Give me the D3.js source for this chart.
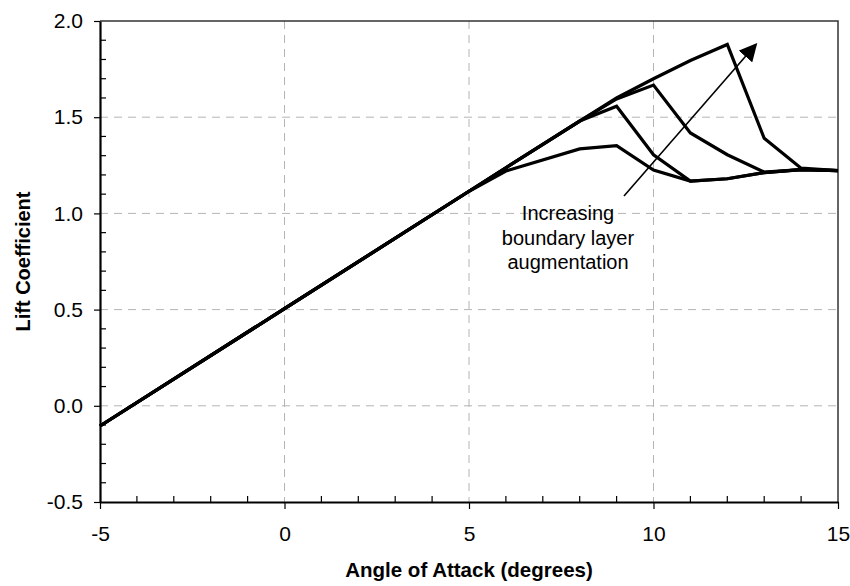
<!DOCTYPE html>
<html>
<head>
<meta charset="utf-8">
<script src="https://cdn.jsdelivr.net/npm/d3@7"></script>
<style>
  body { margin: 0; background: #fff; }
  text { font-family: "Liberation Sans", Arial, sans-serif; }
</style>
</head>
<body>
<svg id="chart" width="850" height="586"></svg>
<script>
// angle of attack breakpoints (deg)
const alpha = [-5, 0, 5, 6, 8, 9, 10, 11, 12, 13, 14, 15];

// lift coefficient, one list per level of boundary layer augmentation
const cl0 = [-0.105, 0.505, 1.115, 1.22, 1.335, 1.352, 1.225, 1.168, 1.18, 1.212, 1.228, 1.222];
const cl1 = [-0.105, 0.505, 1.115, 1.237, 1.48, 1.557, 1.305, 1.168, 1.18, 1.212, 1.228, 1.222];
const cl2 = [-0.105, 0.505, 1.115, 1.237, 1.48, 1.595, 1.667, 1.418, 1.305, 1.215, 1.228, 1.222];
const cl3 = [-0.105, 0.505, 1.115, 1.237, 1.48, 1.60, 1.70, 1.795, 1.878, 1.39, 1.235, 1.222];
const series = [cl0, cl1, cl2, cl3];

const xTicks = [-5, 0, 5, 10, 15];
const yTicks = [-0.5, 0, 0.5, 1.0, 1.5, 2.0];

// annotation arrow (data coords) and its label
const arrowFrom = [9.2, 1.09];
const arrowTo = [12.78, 1.879];
const noteLines = ["Increasing", "boundary layer", "augmentation"];

const margin = {top: 21, right: 12, bottom: 84, left: 100};
const width = 850, height = 586;

const svg = d3.select("#chart");

const x = d3.scaleLinear().domain([-5, 15]).range([margin.left, width - margin.right]);
const y = d3.scaleLinear().domain([-0.5, 2.0]).range([height - margin.bottom, margin.top]);

const x0 = x.range()[0], x1 = x.range()[1];
const y0 = y.range()[0], y1 = y.range()[1];

// dashed grid
const grid = svg.append("g")
  .attr("stroke", "#b4b4b4")
  .attr("stroke-width", 1)
  .attr("stroke-dasharray", "8,6");

grid.selectAll(".gx")
  .data(xTicks.filter(d => d > -5 && d < 15))
  .join("line")
  .attr("x1", d => x(d)).attr("x2", d => x(d))
  .attr("y1", y1).attr("y2", y0);

grid.selectAll(".gy")
  .data(yTicks.filter(d => d > -0.5 && d < 2.0))
  .join("line")
  .attr("x1", x0).attr("x2", x1)
  .attr("y1", d => y(d)).attr("y2", d => y(d));

// top and right frame
svg.append("path")
  .attr("d", `M${x0},${y1}H${x1}V${y0}`)
  .attr("fill", "none")
  .attr("stroke", "#333")
  .attr("stroke-width", 1.5);

// minor ticks, pointing inside
const minorX = d3.range(-5, 15.01, 1).filter(d => d % 5 !== 0);
const minorY = d3.range(-5, 20.01, 1).map(d => d / 10).filter(d => Math.abs(d * 2 - Math.round(d * 2)) > 1e-6);

svg.append("g")
  .attr("stroke", "#000")
  .attr("stroke-width", 1.2)
  .selectAll("line")
  .data(minorX)
  .join("line")
  .attr("x1", d => x(d)).attr("x2", d => x(d))
  .attr("y1", y0).attr("y2", y0 - 6);

svg.append("g")
  .attr("stroke", "#000")
  .attr("stroke-width", 1.2)
  .selectAll("line")
  .data(minorY)
  .join("line")
  .attr("x1", x0).attr("x2", x0 + 6)
  .attr("y1", d => y(d)).attr("y2", d => y(d));

// axes (hyphen minus, like the original)
const fmtX = d => String(d);
const fmtY = d => d3.format(".1f")(d).replace("\u2212", "-");

const xAxis = svg.append("g")
  .attr("transform", `translate(0,${y0})`)
  .call(d3.axisBottom(x).tickValues(xTicks).tickFormat(fmtX).tickSize(7).tickPadding(17).tickSizeOuter(0));

const yAxis = svg.append("g")
  .attr("transform", `translate(${x0},0)`)
  .call(d3.axisLeft(y).tickValues(yTicks).tickFormat(fmtY).tickSize(6).tickPadding(11).tickSizeOuter(0));

[xAxis, yAxis].forEach(a => {
  a.select(".domain").attr("stroke", "#000").attr("stroke-width", 2.2);
  a.selectAll(".tick line").attr("stroke", "#000").attr("stroke-width", 1.2);
  a.selectAll(".tick text")
    .attr("font-family", "'Liberation Sans', Arial, sans-serif")
    .attr("font-size", 21)
    .attr("fill", "#000");
});

// lift curves
const line = d3.line()
  .x((d, i) => x(alpha[i]))
  .y(d => y(d));

svg.append("g")
  .selectAll("path")
  .data(series)
  .join("path")
  .attr("d", line)
  .attr("fill", "none")
  .attr("stroke", "#000")
  .attr("stroke-width", 3.2)
  .attr("stroke-linejoin", "miter");

// arrow
svg.append("defs").append("marker")
  .attr("id", "head")
  .attr("viewBox", "0 0 10 10")
  .attr("refX", 9).attr("refY", 5)
  .attr("markerWidth", 18).attr("markerHeight", 18)
  .attr("markerUnits", "userSpaceOnUse")
  .attr("orient", "auto")
  .append("path")
  .attr("d", "M0,0L10,5L0,10Z")
  .attr("fill", "#000");

svg.append("line")
  .attr("x1", x(arrowFrom[0])).attr("y1", y(arrowFrom[1]))
  .attr("x2", x(arrowTo[0])).attr("y2", y(arrowTo[1]))
  .attr("stroke", "#000")
  .attr("stroke-width", 1.6)
  .attr("marker-end", "url(#head)");

svg.append("g")
  .selectAll("text")
  .data(noteLines)
  .join("text")
  .attr("x", 568)
  .attr("y", (d, i) => 220 + i * 24.5)
  .attr("text-anchor", "middle")
  .attr("font-size", 20)
  .attr("fill", "#000")
  .text(d => d);

// axis titles
svg.append("text")
  .attr("x", (x0 + x1) / 2)
  .attr("y", 577)
  .attr("text-anchor", "middle")
  .attr("font-size", 20.5)
  .attr("font-weight", "bold")
  .text("Angle of Attack (degrees)");

svg.append("text")
  .attr("transform", `translate(30,${(y0 + y1) / 2}) rotate(-90)`)
  .attr("text-anchor", "middle")
  .attr("font-size", 20)
  .attr("font-weight", "bold")
  .text("Lift Coefficient");
</script>
</body>
</html>
